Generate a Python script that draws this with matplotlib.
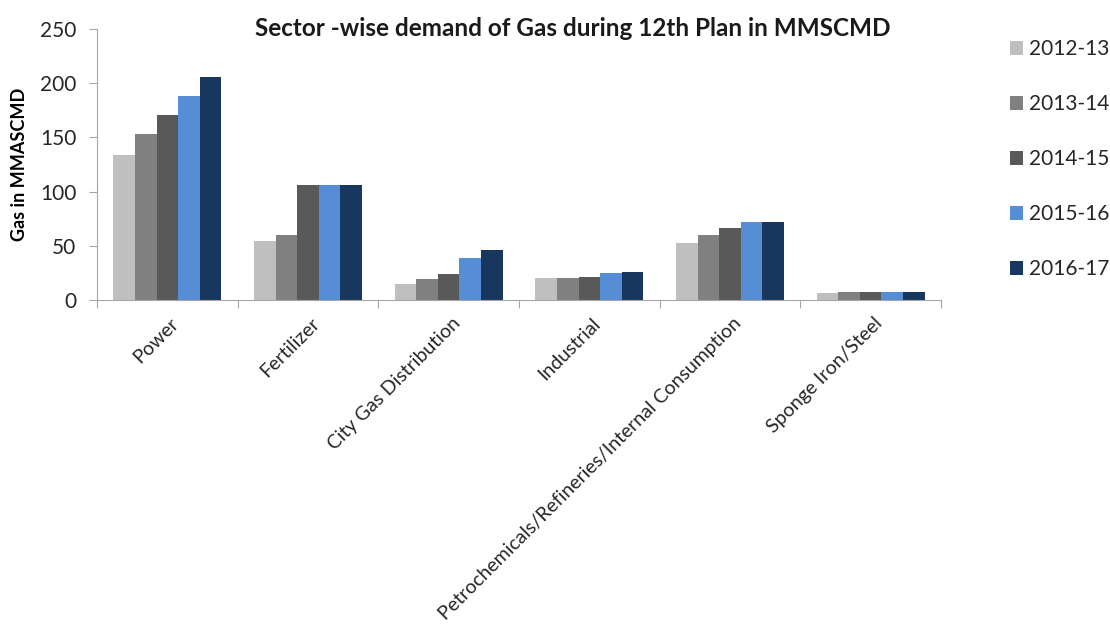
import numpy as np
import matplotlib.pyplot as plt

plt.rcParams['font.family'] = ['Lato', 'DejaVu Sans']

# sector-wise gas demand (MMSCMD) per plan year
sectors = ["Power", "Fertilizer", "City Gas Distribution", "Industrial",
           "Petrochemicals/Refineries/Internal Consumption", "Sponge Iron/Steel"]
years = ["2012-13", "2013-14", "2014-15", "2015-16", "2016-17"]
d2012 = [134, 54, 14.5, 20, 53, 6]
d2013 = [153, 60, 19, 20, 60, 7.5]
d2014 = [171, 106, 24, 21.5, 66, 7.5]
d2015 = [188, 106, 39, 25, 72, 7.5]
d2016 = [206, 106, 46, 26, 72, 7.5]
colors = ["#bfbfbf", "#808080", "#595959", "#558ed5", "#17375e"]

series = [d2012, d2013, d2014, d2015, d2016]

fig = plt.figure(figsize=(11.1, 6.26), dpi=100)
ax = fig.add_axes([97 / 1110, 1 - 300 / 626, (941 - 97) / 1110, (300 - 29) / 626])

x = np.arange(len(sectors)) + 0.5
w = 0.154
for i, (vals, yr) in enumerate(zip(series, years)):
    ax.bar(x + (i - 2) * w, vals, width=w, color=colors[i], label=yr, linewidth=0)

ax.set_xlim(0, len(sectors))
ax.set_ylim(0, 250)
ax.set_yticks([0, 50, 100, 150, 200, 250])
ax.tick_params(axis='y', labelsize=15, length=6, color="#a6a6a6", pad=9, labelcolor="#262626")

# category labels sit between boundary ticks, Excel style
ax.set_xticks(np.arange(len(sectors) + 1))
ax.set_xticklabels([])
ax.tick_params(axis='x', length=6, color="#a6a6a6")
for xi, name in zip(x, sectors):
    ax.text(xi + 0.02, -13.5, name, rotation=45, ha='right', va='top',
            rotation_mode='anchor', fontsize=14, color="#262626")

for s in ['top', 'right']:
    ax.spines[s].set_visible(False)
for s in ['left', 'bottom']:
    ax.spines[s].set_color("#a6a6a6")

ax.set_ylabel("Gas in MMASCMD", fontsize=13, fontweight='bold')
ax.yaxis.set_label_coords(-0.082, 0.5)
fig.text(573 / 1110, 1 - 29 / 626, "Sector -wise demand of Gas during 12th Plan in MMSCMD",
         ha='center', va='center', fontsize=17.5, fontweight='bold', color="#1a1a1a")

fig.legend(loc='upper left', bbox_to_anchor=(1002 / 1110, 1 - 31 / 626), frameon=False,
           fontsize=15, handlelength=0.62, handleheight=0.62, handletextpad=0.3,
           labelspacing=1.68, borderaxespad=0, labelcolor="#262626")

fig.savefig("out.png", dpi=100)
